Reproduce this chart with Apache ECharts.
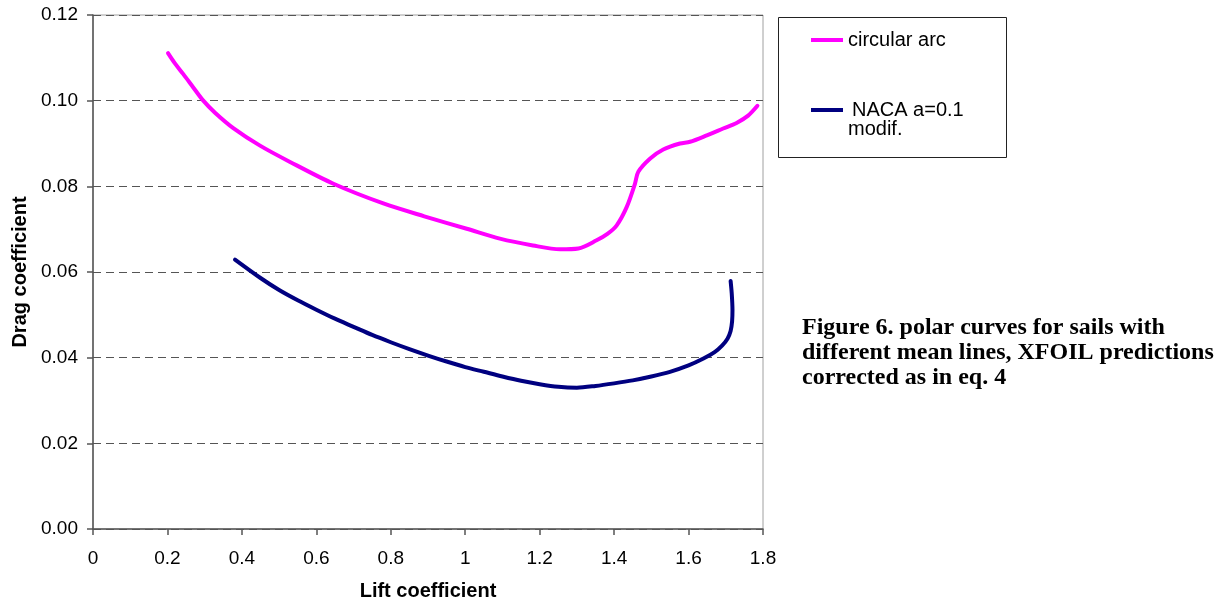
<!DOCTYPE html>
<html>
<head>
<meta charset="utf-8">
<script src="https://cdn.jsdelivr.net/npm/echarts@6/dist/echarts.min.js"></script>
<style>
  html, body { margin: 0; padding: 0; background: #fff; }
  #chart { width: 1224px; height: 603px; }
</style>
</head>
<body>
<div id="chart"></div>
<script>
// Polar curves: lift coefficient (x) vs drag coefficient (y)
const liftArc = [0.2015, 0.2201, 0.2426, 0.2660, 0.2963, 0.3278, 0.3769, 0.4487, 0.5293, 0.646, 0.780, 0.890, 1.004,
                 1.093, 1.182, 1.255, 1.304, 1.353, 1.382, 1.407, 1.434, 1.456,
                 1.465, 1.497, 1.532, 1.577, 1.604, 1.649, 1.693, 1.729, 1.760, 1.785];
const dragArc = [0.1111, 0.1087, 0.1062, 0.1035, 0.1000, 0.0972, 0.0936, 0.0895, 0.0857, 0.0806, 0.0760, 0.0730, 0.0701,
                 0.0678, 0.0662, 0.0653, 0.0655, 0.0674, 0.0689, 0.0709, 0.0752, 0.0806,
                 0.0834, 0.0865, 0.0886, 0.0900, 0.0904, 0.0919, 0.0935, 0.0948, 0.0965, 0.0988];

const liftNaca = [0.3815, 0.45, 0.50, 0.55, 0.60, 0.65, 0.70, 0.75, 0.80, 0.85, 0.90, 0.95, 1.00, 1.05,
                  1.10, 1.15, 1.20, 1.25, 1.30, 1.35, 1.40, 1.45, 1.50, 1.55, 1.60, 1.64, 1.67, 1.69,
                  1.705, 1.713, 1.717, 1.718, 1.716, 1.713];
const dragNaca = [0.0629, 0.0586, 0.0558, 0.0534, 0.0512, 0.0491, 0.0472, 0.0453, 0.0436, 0.0420, 0.0405, 0.0391, 0.0378, 0.0367,
                  0.0356, 0.0346, 0.0338, 0.0332, 0.0330, 0.0334, 0.0340, 0.0347, 0.0356, 0.0367, 0.0382, 0.0398, 0.0413, 0.0428,
                  0.0445, 0.0462, 0.0485, 0.0511, 0.0550, 0.0579];

const seriesNames = ['circular arc', 'NACA a=0.1 modif.'];
const captionLines = [
  'Figure 6. polar curves for sails with',
  'different mean lines, XFOIL predictions',
  'corrected as in eq. 4'
];

const pairs = (xs, ys) => xs.map((x, i) => [x, ys[i]]);

const chart = echarts.init(document.getElementById('chart'), null, { renderer: 'canvas' });

const axisFont = 'Liberation Sans, Arial, sans-serif';

chart.setOption({
  animation: false,
  backgroundColor: '#ffffff',
  grid: {
    left: 93, right: 461, top: 15, bottom: 74,
    outerBoundsMode: 'none', containLabel: false,
    show: true, borderColor: '#a0a0a0', borderWidth: 1, backgroundColor: 'transparent'
  },
  xAxis: {
    type: 'value', min: 0, max: 1.8, interval: 0.2,
    name: 'Lift coefficient', nameLocation: 'middle', nameGap: 52,
    nameTextStyle: { fontFamily: axisFont, fontWeight: 'bold', fontSize: 20, color: '#000' },
    axisLine: { show: true, onZero: false, lineStyle: { color: '#555', width: 1.5 } },
    axisTick: { show: true, length: 6, lineStyle: { color: '#555', width: 1.5 } },
    axisLabel: { fontFamily: axisFont, fontSize: 19, color: '#000', margin: 20 },
    splitLine: { show: false }
  },
  yAxis: {
    type: 'value', min: 0, max: 0.12, interval: 0.02,
    name: 'Drag coefficient', nameLocation: 'middle', nameGap: 62, nameRotate: 90,
    nameTextStyle: { fontFamily: axisFont, fontWeight: 'bold', fontSize: 20, color: '#000' },
    axisLine: { show: true, onZero: false, lineStyle: { color: '#555', width: 1.5 } },
    axisTick: { show: true, length: 6, lineStyle: { color: '#555', width: 1.5 } },
    axisLabel: { fontFamily: axisFont, fontSize: 19, color: '#000', margin: 15,
                 formatter: v => v.toFixed(2) },
    splitLine: { show: true, lineStyle: { color: '#555', width: 1, type: [8, 5] } }
  },
  legend: [
    {
      data: [seriesNames[0]], orient: 'vertical', left: 806, top: 25,
      itemWidth: 32, itemHeight: 4, icon: 'rect',
      textStyle: { fontFamily: axisFont, fontSize: 20, color: '#000' }
    },
    {
      data: [seriesNames[1]], orient: 'vertical', left: 806, top: 95,
      itemWidth: 32, itemHeight: 4, icon: 'rect',
      formatter: () => '{a|NACA a=0.1}\n{b|modif.}',
      textStyle: {
        fontFamily: axisFont, fontSize: 20, color: '#000', padding: [19, 0, 0, 0],
        rich: {
          a: { fontFamily: axisFont, fontSize: 20, lineHeight: 19, padding: [0, 0, 0, 4] },
          b: { fontFamily: axisFont, fontSize: 20, lineHeight: 19 }
        }
      }
    }
  ],
  graphic: [
    {
      type: 'rect', left: 778, top: 17, z: 0,
      shape: { width: 228, height: 140 },
      style: { fill: '#fff', stroke: '#222', lineWidth: 1 }
    },
    {
      type: 'text', left: 802, top: 315,
      style: {
        text: captionLines.join('\n'),
        font: 'bold 24px "Liberation Serif", "Times New Roman", serif',
        lineHeight: 25, fill: '#000'
      }
    }
  ],
  series: [
    {
      name: seriesNames[0], type: 'line', data: pairs(liftArc, dragArc),
      showSymbol: false, smooth: 0.3, color: '#ff00ff',
      lineStyle: { color: '#ff00ff', width: 4, cap: 'round', join: 'round' }
    },
    {
      name: seriesNames[1], type: 'line', data: pairs(liftNaca, dragNaca),
      showSymbol: false, smooth: 0.3, color: '#000080',
      lineStyle: { color: '#000080', width: 4, cap: 'round', join: 'round' }
    }
  ]
});
</script>
</body>
</html>
